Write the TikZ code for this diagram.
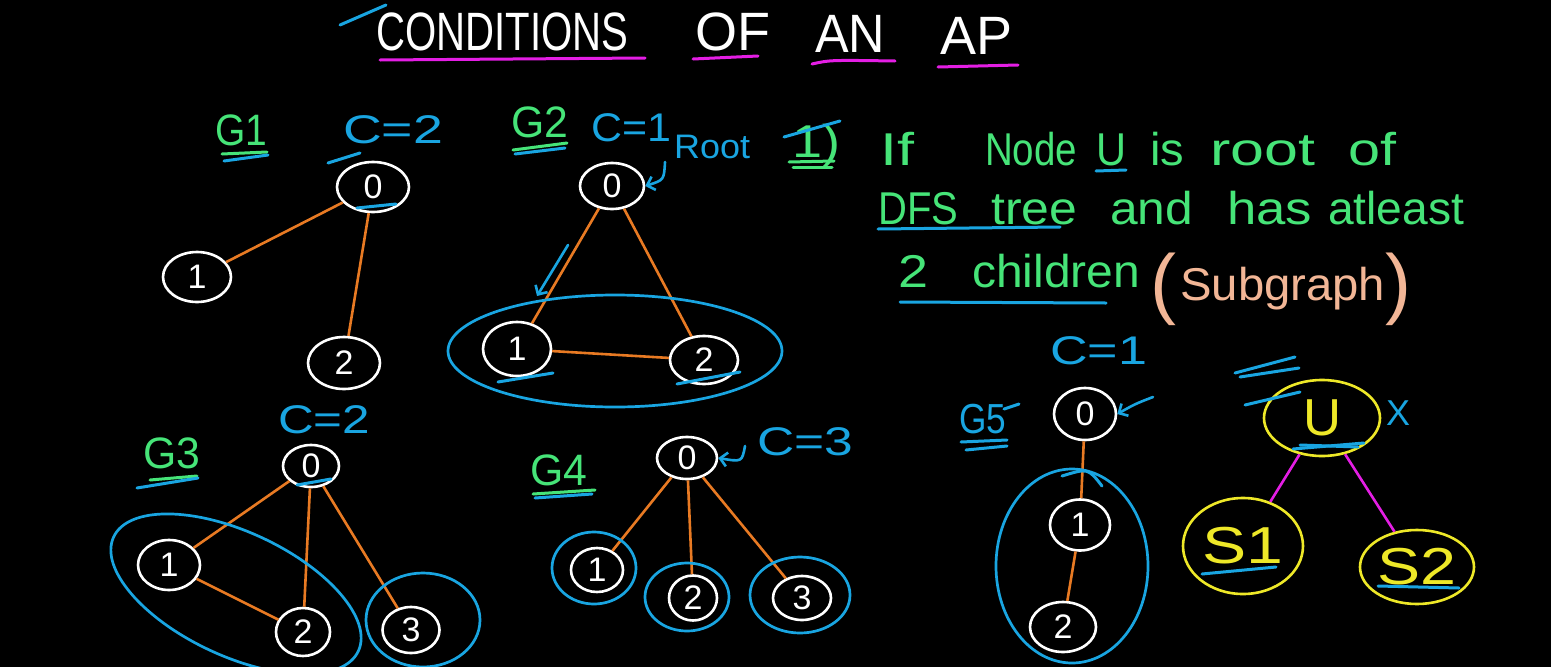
\documentclass[tikz,border=0pt]{standalone}
\usepackage{fontspec}
\setmainfont{Liberation Sans}
\usetikzlibrary{shapes.geometric,arrows.meta}
\definecolor{hwblue}{RGB}{25,165,225}
\definecolor{hwgreen}{RGB}{70,228,120}
\definecolor{hworange}{RGB}{232,122,35}
\definecolor{hwyellow}{RGB}{238,232,40}
\definecolor{hwmag}{RGB}{228,30,228}
\definecolor{hwpeach}{RGB}{242,182,150}
\newcommand{\fsz}[1]{\fontsize{#1}{#1}\selectfont}
\newcommand{\fw}[2]{\resizebox{#1pt}{\height}{#2}}
\begin{document}
\begin{tikzpicture}[x=1pt,y=-1pt,
  gnode/.style={ellipse, draw=white, line width=2.6pt, text=white, inner sep=0pt, font=\fsz{34}},
  ynode/.style={ellipse, draw=hwyellow, line width=2.6pt, text=hwyellow, inner sep=0pt, font=\fsz{52}},
  grp/.style={ellipse, draw=hwblue, line width=2.7pt, inner sep=0pt},
  edge/.style={draw=hworange, line width=2.6pt},
  medge/.style={draw=hwmag, line width=2.6pt},
  bmark/.style={draw=hwblue, line width=3pt, line cap=round},
  gmark/.style={draw=hwgreen, line width=3pt, line cap=round},
  mmark/.style={draw=hwmag, line width=3pt, line cap=round},
  barrow/.style={draw=hwblue, line width=2.6pt, line cap=round, -{Straight Barb[length=7pt,width=14pt]}},
  title/.style={text=white, font=\fsz{54}, inner sep=0pt, anchor=base west},
  glabel/.style={text=hwgreen, font=\fsz{44}, inner sep=0pt, anchor=base west},
  blabel/.style={text=hwblue, font=\fsz{42}, inner sep=0pt, anchor=base west},
  clabel/.style={text=hwblue, font=\fsz{40}, inner sep=0pt, anchor=base west},
  rootlab/.style={text=hwblue, font=\fsz{34}, inner sep=0pt, anchor=base west},
  rt/.style={text=hwgreen, font=\fsz{46}, inner sep=0pt, anchor=base west},
  pt/.style={text=hwpeach, inner sep=0pt, anchor=base west},
]
\fill[black] (0,0) rectangle (1551,667);
\useasboundingbox (0,0) rectangle (1551,667);

% ---------- title ----------
\node[title] (tC) at (376,50) {\fw{252}{CONDITIONS}};
\node[title] (tO) at (695,50) {\fw{75}{OF}};
\node[title] (tAn) at (815,52) {\fw{70}{AN}};
\node[title] (tAp) at (940,54) {\fw{72}{AP}};
\draw[mmark] (380,60) -- (645,58);
\draw[mmark] (693,59) -- (758,56);
\draw[mmark] (812,64) .. controls (830,60) .. (895,61);
\draw[mmark] (938,67) -- (1018,65);
\draw[bmark] (340,25) -- (386,5);

% ---------- G1 ----------
\node[glabel] (g1lab) at (215,145) {\fw{52}{G1}};
\draw[gmark] (222,154) -- (267,152);
\draw[bmark] (224,161) -- (268,155);
\node[clabel] (g1cap) at (343,143) {\fw{100}{C=2}};
\draw[bmark] (328,163) -- (360,153);
\node[gnode, minimum width=72pt, minimum height=50pt] (g1n0) at (373,187) {0};
\node[gnode, minimum width=68pt, minimum height=50pt] (g1n1) at (197,277) {1};
\node[gnode, minimum width=72pt, minimum height=52pt] (g1n2) at (344,363) {2};
\draw[bmark] (357,208) -- (396,204);
\draw[edge] (g1n0) -- (g1n1);
\draw[edge] (g1n0) -- (g1n2);

% ---------- G2 ----------
\node[glabel] (g2lab) at (511,137) {\fw{57}{G2}};
\draw[gmark] (513,150) -- (567,143);
\draw[bmark] (515,154) -- (565,148);
\node[clabel] (g2cap) at (591,141) {\fw{80}{C=1}};
\node[rootlab] (g2root) at (674,158) {\fw{76}{Root}};
\node[gnode, minimum width=64pt, minimum height=46pt] (g2n0) at (612,186) {0};
\node[gnode, minimum width=68pt, minimum height=54pt] (g2n1) at (517,349) {1};
\node[gnode, minimum width=68pt, minimum height=48pt] (g2n2) at (704,360) {2};
\draw[edge] (g2n0) -- (g2n1);
\draw[edge] (g2n0) -- (g2n2);
\draw[edge] (g2n1) -- (g2n2);
\node[grp, minimum width=334pt, minimum height=112pt] (g2grp) at (615,351) {};
\coordinate (g2rootarr) at (665,162);
\draw[barrow] (g2rootarr) .. controls (664,180) .. (g2n0.east);
\coordinate (g2arrs) at (568,245);
\coordinate (g2arre) at (537,296);
\draw[barrow] (g2arrs) -- (g2arre);
\draw[bmark] (498,382) -- (553,373);
\draw[bmark] (677,384) -- (740,372);

% ---------- rule text ----------
\node[rt] (w0) at (792,157) {\fw{48}{1)}};
\draw[bmark] (784,137) -- (840,121);
\draw[gmark] (789,162) -- (834,161);
\draw[gmark] (793,167) -- (832,167);
\node[rt] (w1) at (880,165) {\fw{34}{If}};
\node[rt] (w2) at (985,165) {\fw{92}{Node}};
\node[rt] (w3) at (1096,165) {\fw{30}{U}};
\node[rt] (w4) at (1150,165) {\fw{34}{is}};
\node[rt] (w5) at (1210,165) {\fw{105}{root}};
\node[rt] (w6) at (1348,165) {\fw{48}{of}};
\draw[bmark] (1096,171) -- (1126,170);
\node[rt] (w7) at (878,224) {\fw{80}{DFS}};
\node[rt] (w8) at (991,224) {\fw{86}{tree}};
\node[rt] (w9) at (1110,224) {\fw{83}{and}};
\node[rt] (w10) at (1227,224) {\fw{85}{has}};
\node[rt] (w11) at (1328,224) {\fw{136}{atleast}};
\draw[bmark] (878,229) -- (1060,227);
\node[rt] (w12) at (898,287) {\fw{30}{2}};
\node[rt] (w13) at (972,287) {\fw{168}{children}};
\draw[bmark] (900,302) -- (1106,303);
\node[pt, font=\fsz{78}] (lp) at (1150,309) {(};
\node[pt, font=\fsz{46}] (sg) at (1180,300) {\fw{205}{Subgraph}};
\node[pt, font=\fsz{78}] (rp) at (1385,309) {)};

% ---------- G3 ----------
\node[glabel] (g3lab) at (143,468) {\fw{57}{G3}};
\draw[gmark] (150,480) -- (197,476);
\draw[bmark] (137,488) -- (198,478);
\node[clabel] (g3cap) at (278,433) {\fw{92}{C=2}};
\node[gnode, minimum width=56pt, minimum height=42pt] (g3n0) at (311,466) {0};
\node[gnode, minimum width=62pt, minimum height=50pt] (g3n1) at (169,565) {1};
\node[gnode, minimum width=54pt, minimum height=48pt] (g3n2) at (303,632) {2};
\node[gnode, minimum width=57pt, minimum height=46pt] (g3n3) at (411,630) {3};
\draw[bmark] (297,485) -- (331,479);
\draw[edge] (g3n0) -- (g3n1);
\draw[edge] (g3n0) -- (g3n2);
\draw[edge] (g3n0) -- (g3n3);
\draw[edge] (g3n1) -- (g3n2);
\node[grp, minimum width=270pt, minimum height=124pt, rotate=-25] (g3grp) at (236,594) {};
\node[grp, minimum width=114pt, minimum height=94pt] (g3grp3) at (423,620) {};

% ---------- G4 ----------
\node[glabel] (g4lab) at (530,485) {\fw{57}{G4}};
\draw[gmark] (533,494) -- (595,490);
\draw[bmark] (535,498) -- (592,494);
\node[clabel] (g4cap) at (757,455) {\fw{96}{C=3}};
\node[gnode, minimum width=60pt, minimum height=42pt] (g4n0) at (687,458) {0};
\node[gnode, minimum width=52pt, minimum height=44pt] (g4n1) at (597,570) {1};
\node[gnode, minimum width=48pt, minimum height=45pt] (g4n2) at (693,598) {2};
\node[gnode, minimum width=58pt, minimum height=44pt] (g4n3) at (802,598) {3};
\draw[edge] (g4n0) -- (g4n1);
\draw[edge] (g4n0) -- (g4n2);
\draw[edge] (g4n0) -- (g4n3);
\node[grp, minimum width=84pt, minimum height=72pt] (g4grp1) at (594,568) {};
\node[grp, minimum width=84pt, minimum height=68pt] (g4grp2) at (687,597) {};
\node[grp, minimum width=100pt, minimum height=76pt] (g4grp3) at (800,595) {};
\coordinate (g4arr) at (745,446);
\draw[barrow] (g4arr) .. controls (742,462) .. (g4n0.east);

% ---------- G5 ----------
\node[blabel] (g5lab) at (959,433) {\fw{47}{G5}};
\draw[bmark] (961,442) -- (1007,440);
\draw[bmark] (966,450) -- (1007,446);
\draw[bmark] (1004,409) -- (1019,404);
\node[clabel] (g5cap) at (1050,364) {\fw{97}{C=1}};
\node[gnode, minimum width=62pt, minimum height=52pt] (g5n0) at (1085,414) {0};
\node[gnode, minimum width=60pt, minimum height=51pt] (g5n1) at (1080,525) {1};
\node[gnode, minimum width=66pt, minimum height=50pt] (g5n2) at (1063,627) {2};
\draw[edge] (g5n0) -- (g5n1);
\draw[edge] (g5n1) -- (g5n2);
\node[grp, minimum width=152pt, minimum height=194pt] (g5grp) at (1072,566) {};
\draw[bmark] (1062,476) .. controls (1088,468) .. (1102,486);
\coordinate (g5arr) at (1153,397);
\draw[barrow] (g5arr) .. controls (1135,404) .. (g5n0.east);

% ---------- U subtree ----------
\node[ynode, minimum width=116pt, minimum height=76pt] (un) at (1322,418) {\fw{38}{U}};
\node[ynode, minimum width=120pt, minimum height=96pt] (s1) at (1243,546) {\fw{81}{S1}};
\node[ynode, minimum width=114pt, minimum height=74pt] (s2) at (1417,567) {\fw{79}{S2}};
\draw[medge] (un) -- (s1);
\draw[medge] (un) -- (s2);
\node[text=hwblue, font=\fsz{36}, inner sep=0pt] (xm) at (1398,413) {X};
\draw[bmark] (1235,373) -- (1295,357);
\draw[bmark] (1240,377) -- (1299,368);
\draw[bmark] (1245,405) -- (1300,392);
\draw[bmark] (1293,449) -- (1364,443);
\draw[bmark] (1300,445) -- (1358,447);
\draw[bmark] (1202,574) -- (1276,567);
\draw[bmark] (1378,586) -- (1459,588);
\end{tikzpicture}
\end{document}
